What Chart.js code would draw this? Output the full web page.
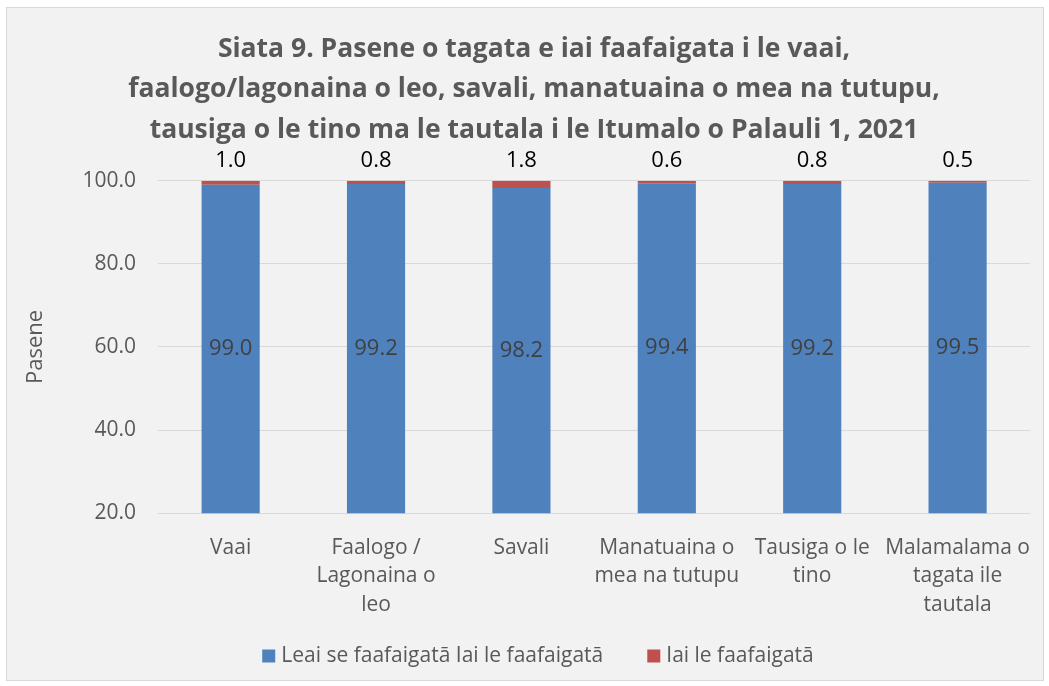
<!DOCTYPE html>
<html>
<head>
<meta charset="utf-8">
<script src="https://cdn.jsdelivr.net/npm/chart.js@4.4.1/dist/chart.umd.min.js"></script>
<style>
  html, body { margin: 0; padding: 0; background: #ffffff; }
  #box { position: absolute; left: 6px; top: 7px; width: 1036px; height: 672px;
         background: #f2f2f2; border: 1px solid #d9d9d9; }
  #c { display: block; }
</style>
</head>
<body>
<div id="box"><canvas id="c" width="1036" height="672"></canvas></div>
<script>
const categories = [
  "Vaai",
  ["Faalogo /", "Lagonaina o", "leo"],
  "Savali",
  ["Manatuaina o", "mea na tutupu"],
  ["Tausiga o le", "tino"],
  ["Malamalama o", "tagata ile", "tautala"]
];
const seriesNames = ["Leai se faafaigatā Iai le faafaigatā", "Iai le faafaigatā"];
const noDifficulty = [99.0, 99.2, 98.2, 99.4, 99.2, 99.5];
const withDifficulty = [1.0, 0.8, 1.8, 0.6, 0.8, 0.5];
const yTicks = [20, 40, 60, 80, 100];
const titleLines = [
  "Siata 9. Pasene o tagata e iai faafaigata i le vaai,",
  "faalogo/lagonaina o leo, savali, manatuaina o mea na tutupu,",
  "tausiga o le tino ma le tautala i le Itumalo o Palauli 1, 2021"
];

const FONT = "'Open Sans', sans-serif";

const labelPlugin = {
  id: 'barLabels',
  beforeDraw(chart) {
    const t = chart.titleBlock;
    if (t && !t._shifted) { t.left += 9; t.right += 9; t._shifted = true; }
  },
  afterDatasetsDraw(chart) {
    const ctx = chart.ctx;
    ctx.save();
    ctx.font = "22px " + FONT;
    ctx.textAlign = 'center';
    const m0 = chart.getDatasetMeta(0);
    const yScale = chart.scales.y;
    m0.data.forEach((el, i) => {
      ctx.fillStyle = '#404040';
      ctx.textBaseline = 'middle';
      ctx.fillText(noDifficulty[i].toFixed(1), el.x, (el.y + yScale.bottom) / 2);
    });
    const m1 = chart.getDatasetMeta(1);
    m1.data.forEach((el, i) => {
      ctx.fillStyle = '#000000';
      ctx.textBaseline = 'bottom';
      ctx.fillText(withDifficulty[i].toFixed(1), el.x, el.y - 9);
    });
    ctx.restore();
  },
  afterDraw(chart) {
    // legend at the bottom, drawn from the datasets
    const ctx = chart.ctx;
    ctx.save();
    ctx.font = "21px " + FONT;
    ctx.textBaseline = 'middle';
    ctx.textAlign = 'left';
    const box = 13, gapText = 6, gapItem = 44;
    const items = chart.data.datasets.map(ds => ({ text: ds.label, color: ds.backgroundColor,
      w: ctx.measureText(ds.label).width }));
    let total = 0;
    items.forEach((it, i) => { total += box + gapText + it.w + (i ? gapItem : 0); });
    let x = chart.width / 2 + 13 - total / 2;
    const y = chart.height - 24;
    items.forEach((it, i) => {
      if (i) x += gapItem;
      ctx.fillStyle = it.color;
      ctx.fillRect(x, y - box / 2, box, box);
      x += box + gapText;
      ctx.fillStyle = '#595959';
      ctx.fillText(it.text, x, y);
      x += it.w;
    });
    ctx.restore();
  }
};

new Chart(document.getElementById('c'), {
  type: 'bar',
  data: {
    labels: categories,
    datasets: [
      { label: seriesNames[0], data: noDifficulty, backgroundColor: '#4f81bd',
        barPercentage: 0.8, categoryPercentage: 0.5 },
      { label: seriesNames[1], data: withDifficulty, backgroundColor: '#c0504d',
        barPercentage: 0.8, categoryPercentage: 0.5 }
    ]
  },
  options: {
    responsive: false,
    animation: false,
    layout: { padding: { left: 12, right: 12, top: 8, bottom: 49 } },
    plugins: {
      title: {
        display: true, text: titleLines, color: '#595959',
        font: { family: FONT, size: 26.5, weight: 'bold', lineHeight: 1.53 },
        padding: { top: 13, bottom: 30 }
      },
      legend: { display: false },
      tooltip: { enabled: false }
    },
    scales: {
      x: {
        stacked: true,
        grid: { display: false },
        border: { display: false },
        ticks: { color: '#595959', font: { family: FONT, size: 21, lineHeight: 1.36 },
                 maxRotation: 0, autoSkip: false, padding: 12 }
      },
      y: {
        stacked: true, min: 20, max: 100,
        afterBuildTicks(scale) { scale.ticks = yTicks.map(v => ({ value: v })); },
        grid: { color: '#d9d9d9', lineWidth: 1, drawTicks: false },
        border: { display: false },
        title: { display: true, text: 'Pasene', color: '#595959',
                 font: { family: FONT, size: 22 }, padding: { bottom: 11 } },
        ticks: { color: '#595959', font: { family: FONT, size: 21 }, padding: 22,
                 callback: v => Number(v).toFixed(1) }
      }
    }
  },
  plugins: [labelPlugin]
});
</script>
</body>
</html>
